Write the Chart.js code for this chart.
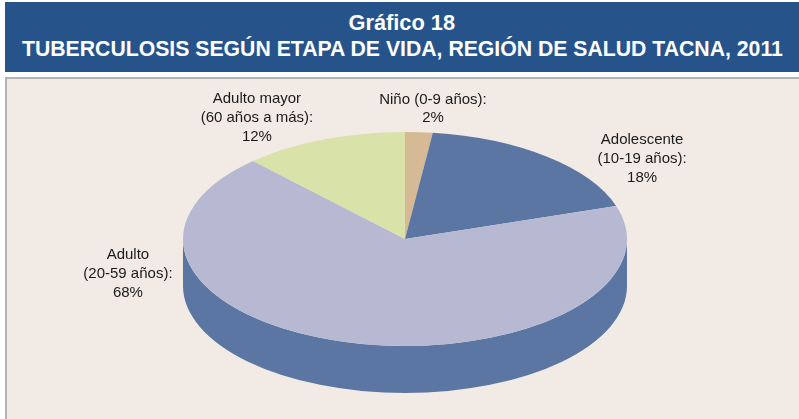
<!DOCTYPE html>
<html>
<head>
<meta charset="utf-8">
<script src="https://cdn.jsdelivr.net/npm/chart.js@4/dist/chart.umd.min.js"></script>
<style>
  html, body { margin: 0; padding: 0; background: #fff; }
  body { width: 799px; height: 419px; position: relative; overflow: hidden; font-family: "Liberation Sans", Arial, sans-serif; }
  #head {
    position: absolute; left: 5px; top: 2px; width: 794px; height: 70px;
    background: #26548a; color: #fff; text-align: center;
    font-family: "Liberation Sans Narrow", "Arial Narrow", "Liberation Sans", sans-serif;
    font-weight: bold; font-size: 22px; line-height: 26px;
  }
  #head div { white-space: nowrap; }
  #head span { display: inline-block; transform-origin: center; }
  #panel {
    position: absolute; left: 5px; top: 77px; width: 794px; height: 342px;
    background: #f2ebe5; border-left: 2px solid #b3b3b3; border-top: 2px solid #b3b3b3;
    box-sizing: border-box;
  }
  #chart { position: absolute; left: 0; top: 0; }
</style>
</head>
<body>
<div id="head">
  <div style="padding-top:8px"><span data-w="107">Gráfico 18</span></div>
  <div><span data-w="761">TUBERCULOSIS SEGÚN ETAPA DE VIDA, REGIÓN DE SALUD TACNA, 2011</span></div>
</div>
<div id="panel"></div>
<canvas id="chart" width="799" height="419"></canvas>
<script>
const categories = [
  ["Niño (0-9 años)"],
  ["Adolescente", "(10-19 años)"],
  ["Adulto", "(20-59 años)"],
  ["Adulto mayor", "(60 años a más)"]
];
const values = [2, 18, 68, 12];
const colors = ["#d6b995", "#5b76a3", "#b7b8d1", "#d8e2a9"];

// squeeze the title lines to the narrow width of the original
document.querySelectorAll("#head span").forEach(sp => {
  sp.style.transform = "scaleX(" + (sp.dataset.w / sp.offsetWidth) + ")";
});

// flatten the pie into a tilted disc and give it a side
const pie3d = {
  id: "pie3d",
  beforeDatasetsDraw(chart, args, o) {
    const arcs = chart.getDatasetMeta(0).data;
    const a0 = arcs[0];
    const s = o.rx / a0.outerRadius;
    const k = o.ry / o.rx;
    const ctx = chart.ctx;
    ctx.save();
    ctx.translate(o.cx, o.cy);
    ctx.scale(s, s * k);
    ctx.translate(-a0.x, -a0.y);
    const d = o.depth / (s * k);
    ctx.fillStyle = o.sideColor;
    arcs.forEach(arc => {
      const a1 = Math.max(arc.startAngle, 0);
      const a2 = Math.min(arc.endAngle, Math.PI);
      if (a2 <= a1) return;
      ctx.beginPath();
      ctx.arc(arc.x, arc.y, arc.outerRadius, a1, a2);
      ctx.arc(arc.x, arc.y + d, arc.outerRadius, a2, a1, true);
      ctx.closePath();
      ctx.fill();
    });
  },
  afterDatasetsDraw(chart, args, o) {
    const ctx = chart.ctx;
    ctx.restore();
    const total = values.reduce((a, b) => a + b, 0);
    ctx.save();
    ctx.fillStyle = "#1a1a1a";
    ctx.font = "15px 'Liberation Sans', Arial, sans-serif";
    ctx.textAlign = "center";
    ctx.textBaseline = "middle";
    categories.forEach((lines, i) => {
      const txt = lines.slice();
      txt[txt.length - 1] += ":";
      txt.push(Math.round(values[i] / total * 100) + "%");
      const x = o.cx + o.labelAt[i][0] * o.rx;
      const y = o.cy + o.labelAt[i][1] * o.ry;
      const y0 = y - (txt.length - 1) * o.lineHeight / 2;
      txt.forEach((t, j) => ctx.fillText(t, x, y0 + j * o.lineHeight));
    });
    ctx.restore();
  }
};

new Chart(document.getElementById("chart"), {
  type: "pie",
  data: {
    labels: categories,
    datasets: [{
      data: values,
      backgroundColor: colors,
      borderWidth: 0,
      clip: false
    }]
  },
  options: {
    responsive: false,
    animation: false,
    events: [],
    plugins: {
      legend: { display: false },
      tooltip: { enabled: false },
      pie3d: {
        cx: 405, cy: 239, rx: 222, ry: 107, depth: 47,
        sideColor: "#5b76a3",
        lineHeight: 18.7,
        labelAt: [[0.126, -1.215], [1.068, -0.748], [-1.248, 0.327], [-0.667, -1.131]]
      }
    }
  },
  plugins: [pie3d]
});
</script>
</body>
</html>
